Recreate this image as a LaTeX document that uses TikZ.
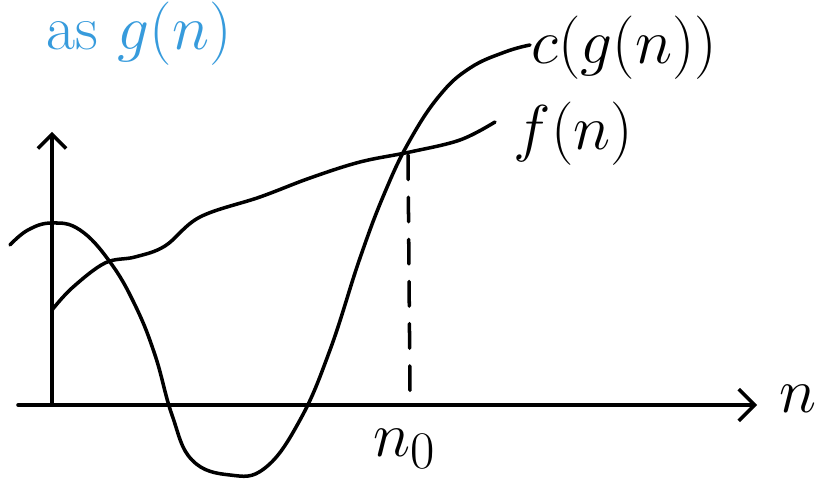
\documentclass[tikz,border=0pt]{standalone}
\usepackage{graphicx}
\usetikzlibrary{arrows.meta}

\definecolor{penblue}{RGB}{55,155,220}
\newcommand{\handtext}[1]{\scalebox{1.45}{#1}}

\begin{document}
\begin{tikzpicture}[x=0.02cm, y=-0.02cm, line width=2pt, line cap=round, line join=round,
    lbl/.style={font=\Huge, inner sep=0pt}]

        % area del disegno
        \useasboundingbox (0,0) rectangle (824,482);

        % ==========================================
        % ASSI
        % ==========================================

        % asse n (orizzontale)
        \draw[-{Straight Barb[length=9pt, width=18pt]}] (18,405) -- (757,405);
        \node[lbl, anchor=base west] (xlab) at (778,412) {\handtext{$n$}};

        % asse verticale
        \draw[-{Straight Barb[length=8pt, width=16pt]}] (52,405) -- (52,132);

        % ==========================================
        % CURVA f(n)
        % ==========================================
        \draw plot [smooth, tension=0.6] coordinates {
            (52,310) (72,288) (105,263) (135,257) (165,246) (200,217)
            (260,197) (310,178) (360,162) (410,152) (460,140) (495,122)
        };
        \node[lbl, anchor=base west] (flab) at (512,150) {\handtext{$f(n)$}};

        % ==========================================
        % CURVA c(g(n))
        % ==========================================
        \draw plot [smooth, tension=0.7] coordinates {
            (10,245) (28,230) (52,223) (80,230) (110,262) (135,305)
            (155,355) (172,415) (192,460) (230,475) (265,468) (300,420)
            (330,350) (360,258) (385,192) (410,140) (440,95) (470,68)
            (505,52) (530,45)
        };
        \node[lbl, anchor=base west] (clab) at (530,64) {\handtext{$c(g(n))$}};

        % ==========================================
        % n_0
        % ==========================================
        \draw[dashed, dash pattern=on 14pt off 10pt] (408,155) -- (410,392);
        \node[lbl, anchor=base] (nzero) at (405,456) {\handtext{$n_0$}};

        % scritta blu in alto
        \node[lbl, penblue, anchor=base west] (asg) at (45,50) {\handtext{as $g(n)$}};

\end{tikzpicture}
\end{document}
